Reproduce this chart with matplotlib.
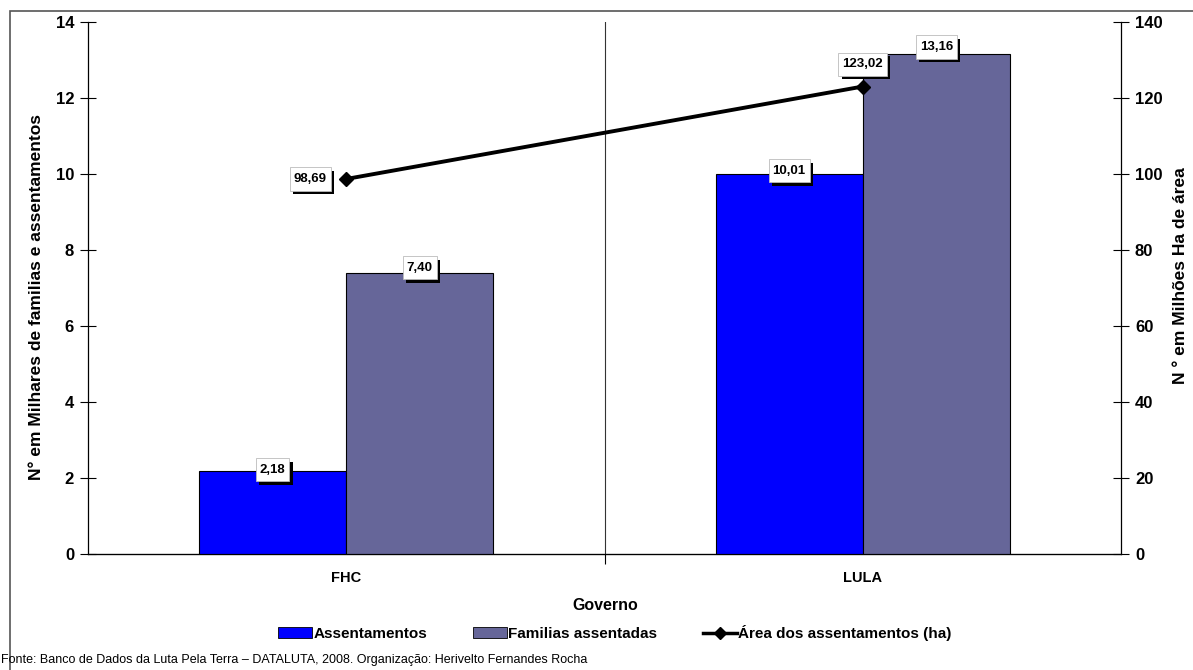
import matplotlib
matplotlib.use("Agg")
import matplotlib.pyplot as plt
import matplotlib.patches as mpatches
import matplotlib.patheffects as pe
from matplotlib.lines import Line2D
from matplotlib.path import Path
from matplotlib.transforms import Affine2D
import numpy as np

# data
governos = ["FHC", "LULA"]
assentamentos = [2.18, 10.01]
familias = [7.40, 13.16]
area = [98.69, 123.02]

blue = "#0000FF"
purple = "#666699"
arial = ["Liberation Sans", "DejaVu Sans"]

W, H = 1193, 670
fig = plt.figure(figsize=(W / 100, H / 100), dpi=100)
fig.patch.set_facecolor("white")

# outer frame (only left and top are visible in the reference)
fig.add_artist(mpatches.Rectangle((10 / W, -0.1), 1.2, 1 - 11 / H + 0.1,
                                  transform=fig.transFigure, fill=False,
                                  edgecolor="#555555", linewidth=1.2))

ax = fig.add_axes([88 / W, (H - 554) / H, (1121 - 88) / W, (554 - 22) / H])
ax2 = ax.twinx()

x = np.arange(len(governos))
bw = 0.285
ax.bar(x - bw / 2, assentamentos, bw, color=blue, edgecolor="black", linewidth=0.8, zorder=3)
ax.bar(x + bw / 2, familias, bw, color=purple, edgecolor="black", linewidth=0.8, zorder=3)

ax.set_xlim(-0.5, 1.5)
ax.set_ylim(0, 14)
ax.set_yticks(range(0, 15, 2))
ax2.set_ylim(0, 140)
ax2.set_yticks(range(0, 141, 20))

# category separator line
ax.axvline(0.5, color="#333333", linewidth=0.8, zorder=1)
ax.set_xticks([0.5])
ax.set_xticklabels([""])
ax.tick_params(axis="x", direction="out", length=7, width=0.8)
for xi, g in zip(x, governos):
    ax.text(xi, -0.62, g, ha="center", va="center", fontsize=10.5,
            family=arial, fontweight="bold")

for a in (ax, ax2):
    a.spines["top"].set_visible(False)
    a.set_facecolor("none")
ax2.spines["left"].set_visible(False)
ax.spines["right"].set_visible(False)
for s in ("left", "bottom"):
    ax.spines[s].set_linewidth(0.9)
ax2.spines["right"].set_linewidth(0.9)
ax.tick_params(axis="y", direction="inout", length=12, width=0.8, pad=4)
ax2.tick_params(axis="y", direction="inout", length=12, width=0.8, pad=4)
for lab in ax.get_yticklabels() + ax2.get_yticklabels():
    lab.set_fontweight("bold")
    lab.set_fontsize(12)
    lab.set_family(arial)

ax2.plot(x, area, color="black", linewidth=2.8, marker="D", markersize=7, zorder=5)
ax2.set_zorder(ax.get_zorder() + 1)


def tallbox(x0, y0, width, height, mutation_size):
    # square box, a little more padding top/bottom than left/right
    px = 0.3 * mutation_size
    py = 0.42 * mutation_size
    return Path.unit_rectangle().transformed(
        Affine2D().scale(width + 2 * px, height + 2 * py).translate(x0 - px, y0 - py))


def tag(axis, xv, yv, txt, dx=0, dy=0):
    t = axis.annotate(txt, (xv, yv), xytext=(dx, dy), textcoords="offset points",
                      ha="center", va="center", fontsize=9.5, fontweight="bold",
                      family=arial, color="black", zorder=7,
                      bbox=dict(boxstyle=tallbox, fc="white", ec="#bbbbbb", lw=0.6))
    t.get_bbox_patch().set_path_effects([
        pe.SimplePatchShadow(offset=(2.5, -2.5), shadow_rgbFace="black", alpha=1),
        pe.Normal()])


def fmt(v):
    return f"{v:.2f}".replace(".", ",")


for xi, v, dy in zip(x, assentamentos, [1, 2]):
    tag(ax2, xi - bw / 2, v * 10, fmt(v), dy=dy)
for xi, v, dy in zip(x, familias, [3.6, 5]):
    tag(ax2, xi + bw / 2, v * 10, fmt(v), dy=dy)
tag(ax2, x[0], area[0], fmt(area[0]), dx=-26, dy=0)
tag(ax2, x[1], area[1], fmt(area[1]), dx=0, dy=16)

ax.set_ylabel("N° em Milhares de familias e assentamentos", fontsize=12.5,
              fontweight="bold", family=arial)
ax.yaxis.set_label_coords(-0.0426, 0.483)
ax2.set_ylabel("N ° em Milhões Ha de área", fontsize=12.5, fontweight="bold",
               family=arial)
ax2.yaxis.set_label_coords(1.050, 0.523)

fig.text(605 / W, 1 - 606 / H, "Governo", ha="center", va="center", fontsize=11.5,
         fontweight="bold", family=arial)

handles = [
    mpatches.Patch(facecolor=blue, edgecolor="black", linewidth=0.6),
    mpatches.Patch(facecolor=purple, edgecolor="black", linewidth=0.6),
    Line2D([0], [0], color="black", linewidth=2.5, marker="D", markersize=6),
]
labels = ["Assentamentos", "Familias assentadas", "Área dos assentamentos (ha)"]
fig.legend(handles, labels, loc="center", bbox_to_anchor=(615 / W, 1 - 633 / H), ncol=3,
           frameon=False, prop=dict(family=arial, weight="bold", size=11),
           handlelength=2.2, handletextpad=0.1, columnspacing=3.0,
           borderpad=0, borderaxespad=0)

fig.text(1 / W, 1 - 660 / H,
         "Fonte: Banco de Dados da Luta Pela Terra – DATALUTA, 2008. Organização: Herivelto Fernandes Rocha",
         ha="left", va="center", fontsize=9, family=arial)

fig.savefig("out.png", dpi=100)
